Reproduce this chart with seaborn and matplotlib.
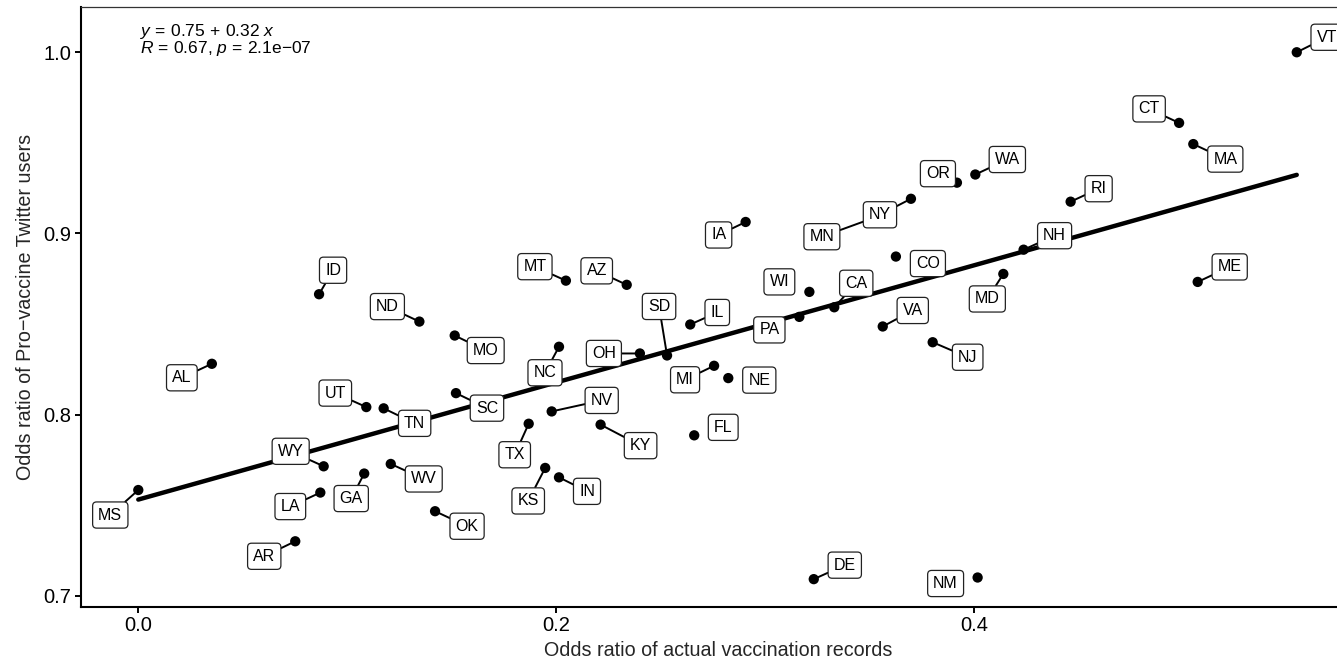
import numpy as np
import pandas as pd
import matplotlib
matplotlib.use("Agg")
import matplotlib.pyplot as plt
import seaborn as sns

states = ["AL", "AR", "AZ", "CA", "CO", "CT", "DE", "FL", "GA", "IA", "ID", "IL",
          "IN", "KS", "KY", "LA", "MA", "MD", "ME", "MI", "MN", "MO", "MS", "MT",
          "NC", "ND", "NE", "NH", "NJ", "NM", "NV", "NY", "OH", "OK", "OR", "PA",
          "RI", "SC", "SD", "TN", "TX", "UT", "VA", "VT", "WA", "WI", "WV", "WY"]
vacc_records = [0.0352, 0.0751, 0.2337, 0.3330, 0.3625, 0.4980, 0.3232, 0.2660,
                0.1081, 0.2906, 0.0865, 0.2641, 0.2013, 0.1947, 0.2212, 0.0871,
                0.5048, 0.4139, 0.5069, 0.2755, 0.3534, 0.1514, 0.0000, 0.2046,
                0.2013, 0.1345, 0.2823, 0.4236, 0.3801, 0.4016, 0.1978, 0.3697,
                0.2400, 0.1420, 0.3917, 0.3163, 0.4461, 0.1520, 0.2530, 0.1174,
                0.1868, 0.1091, 0.3562, 0.5543, 0.4005, 0.3211, 0.1208, 0.0887]
twitter_users = [0.8280, 0.7300, 0.8716, 0.8592, 0.8872, 0.9610, 0.7091, 0.7885,
                 0.7674, 0.9063, 0.8664, 0.8497, 0.7653, 0.7705, 0.7944, 0.7569,
                 0.9493, 0.8776, 0.8732, 0.8269, 0.9092, 0.8436, 0.7583, 0.8739,
                 0.8374, 0.8513, 0.8201, 0.8910, 0.8399, 0.7100, 0.8017, 0.9191,
                 0.8337, 0.7466, 0.9280, 0.8539, 0.9175, 0.8118, 0.8326, 0.8034,
                 0.7949, 0.8041, 0.8486, 1.0000, 0.9325, 0.8677, 0.7727, 0.7714]

# label placement (pixel offsets from the point, ggrepel-like)
label_offsets = {
    "AL": (-30, -14), "AR": (-31, -15), "AZ": (-30, 14), "CA": (22, 24),
    "CO": (32, -7), "CT": (-30, 14), "DE": (31, 14), "FL": (29, 8),
    "GA": (-13, -25), "IA": (-27, -13), "ID": (14, 24), "IL": (27, 12),
    "IN": (28, -14), "KS": (-17, -33), "KY": (40, -21), "LA": (-30, -14),
    "MA": (32, -15), "MD": (-16, -25), "ME": (32, 15), "MI": (-29, -14),
    "MN": (-55, -20), "MO": (31, -15), "MS": (-28, -25), "MT": (-31, 14),
    "NC": (-14, -26), "ND": (-32, 15), "NE": (31, -2), "NH": (31, 14),
    "NJ": (35, -15), "NM": (-32, -6), "NV": (50, 11), "NY": (-31, -16),
    "OH": (-36, 0), "OK": (32, -15), "OR": (-19, 9), "PA": (-30, -13),
    "RI": (28, 13), "SC": (31, -15), "SD": (-8, 49), "TN": (31, -15),
    "TX": (-14, -31), "UT": (-31, 14), "VA": (30, 16), "VT": (30, 15),
    "WA": (32, 15), "WI": (-30, 10), "WV": (33, -15), "WY": (-33, 15),
}
no_segment = {"WI", "FL", "NE", "CO", "NM", "OR", "PA"}

df = pd.DataFrame({"state": states, "vacc": vacc_records, "twitter": twitter_users})

sns.set_theme(style="ticks")
plt.rcParams["font.family"] = ["Liberation Sans", "DejaVu Sans"]
plt.rcParams["mathtext.fontset"] = "custom"
plt.rcParams["mathtext.rm"] = "Liberation Sans"
plt.rcParams["mathtext.it"] = "Liberation Sans:italic"

fig = plt.figure(figsize=(13.37, 6.58), dpi=100)
ax = fig.add_axes([0.0606, 0.078, 0.9526, 0.9114])

sns.scatterplot(data=df, x="vacc", y="twitter", ax=ax, color="black", s=55,
                edgecolor="none", zorder=3)
sns.regplot(data=df, x="vacc", y="twitter", ax=ax, scatter=False, ci=None,
            color="black", line_kws={"linewidth": 3.2, "zorder": 4})

for st, xv, yv in zip(states, vacc_records, twitter_users):
    dx, dy = label_offsets[st]
    arrow = None if st in no_segment else dict(arrowstyle="-", color="black", lw=1.4,
                                               shrinkA=0, shrinkB=0)
    ax.annotate(st, (xv, yv), xytext=(dx, dy), textcoords="offset pixels",
                ha="center", va="center", fontsize=11.5, color="black", zorder=6,
                bbox=dict(boxstyle="round,pad=0.35,rounding_size=0.25", fc="white",
                          ec="#222222", lw=0.9),
                arrowprops=arrow, annotation_clip=False)

ax.text(0.0463, 0.975,
        "$y\\,=\\,0.75\\,+\\,0.32\\ x$\n$R\\,=\\,0.67$, $p\\,=\\,2.1$e$-07$",
        transform=ax.transAxes, ha="left", va="top", fontsize=12.5,
        linespacing=0.88, color="black")

ax.set_xlim(-0.0274, 0.582)
ax.set_ylim(0.6939, 1.025)
ax.set_xticks([0.0, 0.2, 0.4])
ax.set_xticklabels(["0.0", "0.2", "0.4"])
ax.set_yticks([0.7, 0.8, 0.9, 1.0])
ax.set_yticklabels(["0.7", "0.8", "0.9", "1.0"])
ax.set_xlabel("Odds ratio of actual vaccination records", fontsize=14.2, labelpad=4)
ax.set_ylabel("Odds ratio of Pro\u2212vaccine Twitter users", fontsize=14.2, labelpad=6)
ax.tick_params(axis="both", labelsize=14.5, length=4, width=1.4, color="black",
               labelcolor="black", pad=3)
for side in ["left", "bottom"]:
    ax.spines[side].set_linewidth(1.5)
    ax.spines[side].set_color("black")
ax.spines["top"].set_visible(True)
ax.spines["top"].set_linewidth(0.9)
ax.spines["top"].set_color("#333333")
ax.spines["right"].set_visible(False)

fig.savefig("out.png", dpi=100)
